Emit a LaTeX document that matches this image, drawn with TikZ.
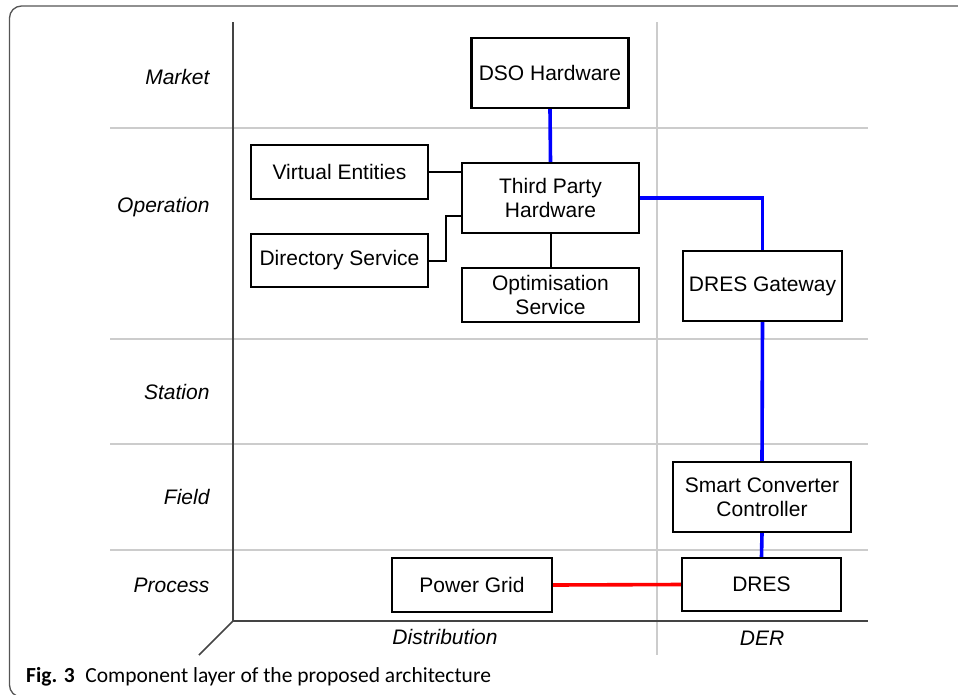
\documentclass[tikz,border=0pt]{standalone}
\usepackage{fontspec}
\setmainfont{Liberation Sans}
\newfontfamily\capfont{Carlito}
\definecolor{gridgrey}{HTML}{CCCCCC}
\definecolor{axisgrey}{HTML}{444444}
\definecolor{framegrey}{HTML}{555555}
\tikzset{
  comp/.style={draw=black, line width=2.4pt, fill=white, rectangle, inner sep=0pt,
    align=center, font=\fontsize{21}{24}\selectfont},
  layer/.style={anchor=east, font=\fontsize{21}{24}\selectfont\itshape},
  zone/.style={font=\fontsize{21}{24}\selectfont\itshape},
  gridline/.style={draw=gridgrey, line width=2pt},
  axisline/.style={draw=axisgrey, line width=2.2pt},
  datalink/.style={draw=blue, line width=3.6pt},
  powerlink/.style={draw=red, line width=3.6pt},
  plainlink/.style={draw=black, line width=2pt},
}
\begin{document}
\begin{tikzpicture}[x=1pt, y=-1pt]
\useasboundingbox (0,0) rectangle (958,694);
\begin{scope}
\clip (0,0) rectangle (958,694);
% outer frame
\draw[framegrey, line width=1.3pt, rounded corners=12pt] (970,6) -- (9.5,6) -- (9.5,697) -- (970,697);
\end{scope}

% layer separators and zone separator
\draw[gridline] (110,127.5) -- (868,127.5);
\draw[gridline] (110,338.5) -- (868,338.5);
\draw[gridline] (110,444) -- (868,444);
\draw[gridline] (110,549.5) -- (868,549.5);
\draw[gridline] (656.5,22) -- (656.5,655);

% axes
\draw[axisline] (233,22) -- (233,621) -- (868,621);
\draw[axisline, line width=1.6pt] (233,621) -- (199,655);

% layer names
\node[layer] (lmarket) at (213,77) {Market};
\node[layer] (loperation) at (213,207) {Operation};
\node[layer] (lstation) at (213,392) {Station};
\node[layer] (lfield) at (213,497) {Field};
\node[layer] (lprocess) at (213,585) {Process};

% zone names
\node[zone] (zdist) at (445,637) {Distribution};
\node[zone] (zder) at (762,638) {DER};

% components
\node[comp, minimum width=157pt, minimum height=70pt] (dso) at (550,73) {DSO Hardware};
\node[comp, minimum width=177pt, minimum height=54pt] (ve) at (339.5,172) {Virtual Entities};
\node[comp, minimum width=177pt, minimum height=70pt] (tph) at (550.5,198) {Third Party\\Hardware};
\node[comp, minimum width=177pt, minimum height=53pt] (ds) at (339.5,260.5) {Directory Service};
\node[comp, minimum width=177pt, minimum height=54pt] (os) at (550.5,295) {Optimisation\\Service};
\node[comp, minimum width=159pt, minimum height=70pt] (gw) at (762.5,286) {DRES Gateway};
\node[comp, minimum width=178pt, minimum height=70pt] (scc) at (762,497) {Smart Converter\\Controller};
\node[comp, minimum width=159pt, minimum height=53pt] (dres) at (761.5,584.5) {DRES};
\node[comp, minimum width=160pt, minimum height=54pt] (pg) at (472,585) {Power Grid};

% connectors
\draw[plainlink] (ve.east) -- (ve.east -| tph.west);
\coordinate (dsin) at (tph.west |- 0,216);
\draw[plainlink] (ds.east) -- ++(17,0) |- (dsin);
\draw[plainlink] (tph.south) -- (os.north);
\draw[datalink] (dso.south) -- (tph.north);
\draw[datalink] (tph.east) -| (gw.north);
\draw[datalink] (gw.south) -- (scc.north);
\draw[datalink] (scc.south) -- (dres.north);
\draw[powerlink] (pg.east) -- (dres.west);

% caption
\node[anchor=base west, inner sep=0pt, font=\capfont\fontsize{21.5}{24}\selectfont] (caption) at (26,682)
  {\textbf{Fig. 3}\enspace Component layer of the proposed architecture};
\end{tikzpicture}
\end{document}
